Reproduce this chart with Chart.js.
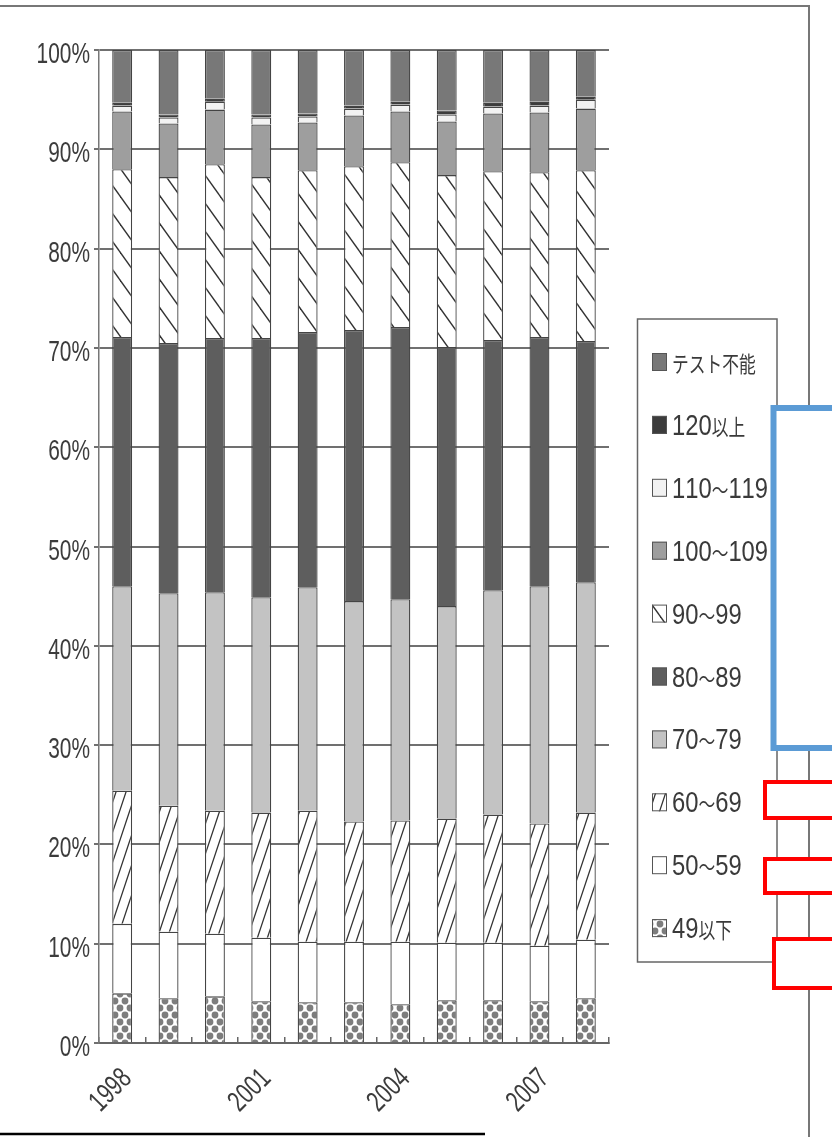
<!DOCTYPE html>
<html lang="ja">
<head>
<meta charset="utf-8">
<title>IQ分布</title>
<script src="https://cdn.jsdelivr.net/npm/chart.js@4.4.1/dist/chart.umd.min.js"></script>
<style>
  html, body { margin: 0; padding: 0; background: #fff; }
  canvas { display: block; }
</style>
</head>
<body>
<canvas id="chart" width="832" height="1137"></canvas>
<script>
// Categories and series (percent of each year, bottom to top)
const years = ['1998', '1999', '2000', '2001', '2002', '2003', '2004', '2005', '2006', '2007', '2008'];
const seriesLabels = ['49以下', '50～59', '60～69', '70～79', '80～89', '90～99', '100～109', '110～119', '120以上', 'テスト不能'];

const under49 = [5.0, 4.5, 4.7, 4.2, 4.1, 4.1, 3.9, 4.3, 4.3, 4.2, 4.5];
const from50 = [7.0, 6.7, 6.3, 6.4, 6.1, 6.1, 6.3, 5.8, 5.8, 5.6, 5.9];
const from60 = [13.4, 12.7, 12.4, 12.6, 13.2, 12.1, 12.2, 12.5, 12.9, 12.3, 12.8];
const from70 = [20.6, 21.4, 22.0, 21.7, 22.5, 22.2, 22.3, 21.4, 22.6, 23.9, 23.2];
const from80 = [25.1, 25.2, 25.6, 26.1, 25.7, 27.3, 27.4, 26.1, 25.2, 25.1, 24.3];
const from90 = [16.9, 16.7, 17.5, 16.2, 16.3, 16.5, 16.6, 17.3, 17.0, 16.6, 17.2];
const from100 = [5.8, 5.4, 5.5, 5.3, 4.8, 5.1, 5.1, 5.4, 5.8, 6.0, 6.2];
const from110 = [0.6, 0.6, 0.8, 0.7, 0.6, 0.7, 0.7, 0.7, 0.7, 0.7, 0.9];
const over120 = [0.3, 0.3, 0.3, 0.3, 0.3, 0.3, 0.3, 0.4, 0.4, 0.4, 0.3];
const untestable = [5.3, 6.5, 4.9, 6.5, 6.4, 5.6, 5.2, 6.1, 5.3, 5.2, 4.7];

const yTicks = [0, 10, 20, 30, 40, 50, 60, 70, 80, 90, 100];

const LATIN = "29px 'Liberation Sans', 'Arimo', sans-serif";

/**
 * Build a fill pattern from a small tile
 */
function makePattern(w, h, paint) {
  const tile = document.createElement('canvas');
  tile.width = w;
  tile.height = h;
  const t = tile.getContext('2d');
  t.fillStyle = '#fff';
  t.fillRect(0, 0, w, h);
  paint(t, w, h);
  return document.getElementById('chart').getContext('2d').createPattern(tile, 'repeat');
}

// "\" hatch
const backHatch = makePattern(20, 28, (t, w, h) => {
  t.strokeStyle = '#333';
  t.lineWidth = 1.4;
  for (let k = -1; k <= 1; k++) {
    t.beginPath();
    t.moveTo(-5, -5 * h / w + k * h);
    t.lineTo(w + 5, (w + 5) * h / w + k * h);
    t.stroke();
  }
});

// "/" hatch, steep
const fwdHatch = makePattern(10, 30, (t, w, h) => {
  t.strokeStyle = '#333';
  t.lineWidth = 1.3;
  for (let k = -1; k <= 1; k++) {
    t.beginPath();
    t.moveTo(-2, h + 2 * h / w + k * h);
    t.lineTo(w + 2, -2 * h / w + k * h);
    t.stroke();
  }
});

// dots
const dots = makePattern(10, 14, (t, w, h) => {
  t.fillStyle = '#7d7d7d';
  [[0, 0], [w, 0], [0, h], [w, h], [w / 2, h / 2]].forEach(([x, y]) => {
    t.beginPath();
    t.arc(x, y, 3.4, 0, Math.PI * 2);
    t.fill();
  });
});

const seriesValues = [under49, from50, from60, from70, from80, from90, from100, from110, over120, untestable];
const seriesFills = [dots, '#ffffff', fwdHatch, '#c3c3c3', '#5e5e5e', backHatch, '#9e9e9e', '#f2f2f2', '#3c3c3c', '#787878'];

const datasets = seriesValues.map((values, i) => ({
  label: seriesLabels[i],
  data: values,
  backgroundColor: seriesFills[i],
  borderColor: '#444',
  borderWidth: 1.3,
  barPercentage: 0.43,
  categoryPercentage: 1.0,
}));

/**
 * Draw text with condensed glyphs (Latin and CJK scaled separately)
 */
function drawNarrowText(ctx, text, x, baseline) {
  for (const ch of text) {
    const cjk = /[\u3000-\u9fff\uff00-\uffef]/.test(ch);
    ctx.font = cjk ? "22px 'Noto Sans CJK JP'" : "29px 'Liberation Sans', sans-serif";
    const sx = cjk ? 0.76 : 0.82;
    const w = ctx.measureText(ch).width * sx;
    ctx.save();
    ctx.translate(x, baseline);
    ctx.scale(sx, 1);
    ctx.fillText(ch, 0, 0);
    ctx.restore();
    x += w;
  }
}

// Condensed axis labels placed from the chart's own scales
const axisLabels = {
  id: 'axisLabels',
  afterDraw(chart) {
    const { ctx, scales } = chart;
    ctx.save();
    ctx.fillStyle = '#3c3c3c';
    ctx.font = LATIN;
    ctx.textAlign = 'right';
    ctx.textBaseline = 'alphabetic';

    yTicks.forEach((v) => {
      const py = scales.y.getPixelForValue(v);
      ctx.save();
      ctx.translate(90, py + 13);
      ctx.scale(0.72, 1);
      ctx.fillText(v + '%', 0, 0);
      ctx.restore();
    });

    years.forEach((yr, i) => {
      if (i % 3 !== 0) return;
      const px = scales.x.getPixelForValue(i);
      ctx.save();
      ctx.translate(px - 4, scales.x.top + 22);
      ctx.rotate(-Math.PI / 4);
      ctx.scale(0.72, 1);
      ctx.fillText(yr, 0, 21);
      ctx.restore();
    });
    ctx.restore();
  },
};

// Boxed legend on the right, top item is the last series
const boxLegend = {
  id: 'boxLegend',
  afterDraw(chart) {
    const ctx = chart.ctx;
    ctx.save();
    ctx.strokeStyle = '#666';
    ctx.lineWidth = 1.5;
    ctx.strokeRect(637.5, 319, 139.5, 643);

    const items = chart.data.datasets.slice().reverse();
    items.forEach((ds, i) => {
      const cy = 362 + i * 62.9;
      ctx.fillStyle = ds.backgroundColor;
      ctx.fillRect(652, cy - 9, 15, 18);
      ctx.strokeStyle = '#555';
      ctx.lineWidth = 1;
      ctx.strokeRect(652.5, cy - 8.5, 14, 17);
      ctx.fillStyle = '#3a3a3a';
      ctx.textBaseline = 'alphabetic';
      ctx.textAlign = 'left';
      drawNarrowText(ctx, ds.label, 672, cy + 10);
    });
    ctx.restore();
  },
};

// Page edges of the scan and the boxes drawn over it
const pageMarks = {
  id: 'pageMarks',
  afterDraw(chart) {
    const ctx = chart.ctx;
    ctx.save();
    ctx.strokeStyle = '#777';
    ctx.lineWidth = 2;
    ctx.beginPath();
    ctx.moveTo(0, 6);
    ctx.lineTo(809, 6);
    ctx.lineTo(809, 1137);
    ctx.stroke();

    ctx.strokeStyle = '#000';
    ctx.lineWidth = 2.5;
    ctx.beginPath();
    ctx.moveTo(0, 1134);
    ctx.lineTo(485, 1134);
    ctx.stroke();

    const boxes = [
      { x: 773.5, y: 408, h: 340, color: '#5b9bd5', lw: 6 },
      { x: 765, y: 782, h: 36, color: '#ff0000', lw: 4 },
      { x: 765, y: 859, h: 34, color: '#ff0000', lw: 4 },
      { x: 774, y: 939, h: 49, color: '#ff0000', lw: 4 },
    ];
    boxes.forEach((b) => {
      ctx.fillStyle = '#fff';
      ctx.fillRect(b.x, b.y, 100, b.h);
      ctx.strokeStyle = b.color;
      ctx.lineWidth = b.lw;
      ctx.strokeRect(b.x, b.y, 100, b.h);
    });
    ctx.restore();
  },
};

new Chart(document.getElementById('chart'), {
  type: 'bar',
  data: { labels: years, datasets },
  options: {
    responsive: false,
    animation: false,
    layout: { padding: { top: 50, right: 223, bottom: 0, left: 0 } },
    plugins: {
      legend: { display: false },
      tooltip: { enabled: false },
    },
    scales: {
      x: {
        stacked: true,
        grid: {
          display: true,
          drawOnChartArea: false,
          drawTicks: true,
          tickLength: -6,
          color: '#666',
          lineWidth: 1.5,
        },
        border: { display: true, color: '#666', width: 2 },
        ticks: { display: false, autoSkip: false },
        afterFit: (scale) => { scale.height = 94; },
      },
      y: {
        stacked: true,
        min: 0,
        max: 100,
        afterBuildTicks: (scale) => { scale.ticks = yTicks.map((v) => ({ value: v })); },
        grid: { color: '#707070', lineWidth: 2, tickLength: 5 },
        border: { display: true, color: '#777', width: 1.5 },
        ticks: { display: false },
        afterFit: (scale) => { scale.width = 99; },
      },
    },
  },
  plugins: [axisLabels, boxLegend, pageMarks],
});
</script>
</body>
</html>
